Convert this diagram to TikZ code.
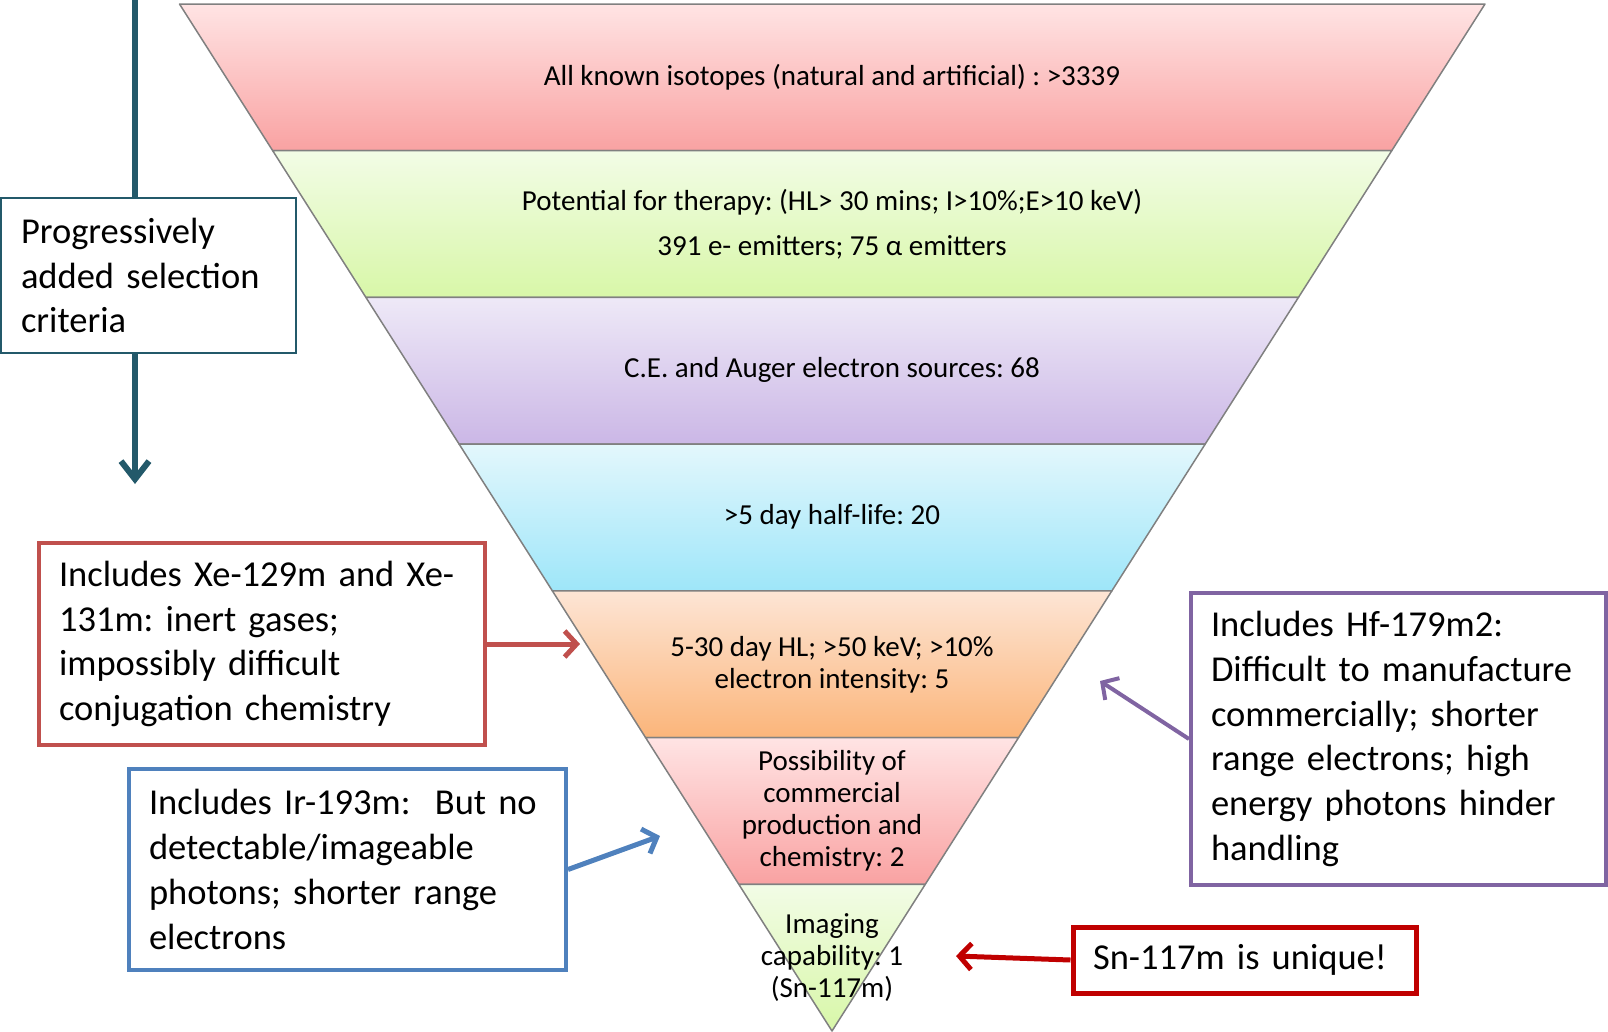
\documentclass[tikz,border=0pt]{standalone}
\usepackage{fontspec}
\setmainfont{Carlito}
\usetikzlibrary{calc,arrows.meta}
\definecolor{pkT}{RGB}{255,228,228}
\definecolor{pkB}{RGB}{249,162,162}
\definecolor{grT}{RGB}{242,252,230}
\definecolor{grB}{RGB}{216,247,168}
\definecolor{puT}{RGB}{238,233,247}
\definecolor{puB}{RGB}{203,183,230}
\definecolor{cyT}{RGB}{227,247,252}
\definecolor{cyB}{RGB}{158,230,249}
\definecolor{orT}{RGB}{253,229,213}
\definecolor{orB}{RGB}{251,181,122}
\definecolor{bandline}{RGB}{128,128,128}
\definecolor{tealc}{RGB}{35,89,106}
\definecolor{xered}{RGB}{192,80,77}
\definecolor{irblue}{RGB}{79,129,189}
\definecolor{hfpurple}{RGB}{128,100,162}
\definecolor{snred}{RGB}{192,0,0}
\newcommand{\boxfont}{\fontsize{36.5}{44.8}\selectfont\frenchspacing}
\newcommand{\bandfont}{\fontsize{29}{32}\selectfont\frenchspacing}
\begin{document}
\frenchspacing
\begin{tikzpicture}[x=1pt,y=-1pt,
  bandtxt/.style={align=center,font=\bandfont,inner sep=0pt},
  callout/.style={draw,fill=white,align=left,font=\boxfont,inner xsep=20pt,inner ysep=0pt},
  conn/.style={line width=5pt}
]
\useasboundingbox (0,0) rectangle (1608,1031);
\coordinate (TL) at (179.5,4);
\coordinate (TR) at (1485,4);
\coordinate (AP) at (832,1031);
\foreach \i/\ct/\cb in {0/pkT/pkB,1/grT/grB,2/puT/puB,3/cyT/cyB,4/orT/orB,5/pkT/pkB,6/grT/grB}{
  \pgfmathsetmacro\fa{\i/7}
  \pgfmathsetmacro\fb{(\i+1)/7}
  \shadedraw[top color=\ct,bottom color=\cb,draw=bandline,line width=1.5pt,line join=round]
    ($(TL)!\fa!(AP)$) -- ($(TR)!\fa!(AP)$) -- ($(TR)!\fb!(AP)$) -- ($(TL)!\fb!(AP)$) -- cycle;
}
% band texts
\node[bandtxt] (b1) at (832,77) {All known isotopes (natural and artificial) : >3339};
\node[bandtxt] (b2) at (832,224) {Potential for therapy: (HL> 30 mins; I>10\%;E>10 keV)\\[13pt]391 e- emitters; 75 α emitters};
\node[bandtxt] (b3) at (832,370) {C.E. and Auger electron sources: 68};
\node[bandtxt] (b4) at (832,517) {>5 day half-life: 20};
\node[bandtxt] (b5) at (832,665) {5-30 day HL; >50 keV; >10\%\\electron intensity: 5};
\node[bandtxt] (b6) at (832,811) {Possibility of\\commercial\\production and\\chemistry: 2};
\node[bandtxt] (b7) at (832,958) {Imaging\\capability: 1\\(Sn-117m)};
% left teal box and arrow
\node[callout,draw=tealc,line width=2pt,text width=255pt,minimum height=155pt] (teal) at (148.5,275.5)
  {Progressively\\added selection\\criteria};
\coordinate (tealtop) at (135,0);
\coordinate (tealend) at (135,484);
\draw[tealc,line width=6pt] (tealtop) -- (tealtop |- teal.north);
\draw[tealc,line width=6pt,-{Straight Barb[length=18pt,width=28pt]}] (tealtop |- teal.south) -- (tealend);
% Xe box
\node[callout,draw=xered,line width=4pt,text width=406pt,minimum height=202pt] (xe) at (262,644)
  {Includes Xe-129m and Xe-\\131m: inert gases;\\impossibly difficult\\conjugation chemistry};
\coordinate (xetip) at (580,644);
\draw[conn,xered,-{Straight Barb[length=12pt,width=26pt]}] (xe.east) -- (xetip);
% Ir box
\node[callout,draw=irblue,line width=4pt,text width=397pt,minimum height=201pt] (ir) at (347.5,869.5)
  {Includes Ir-193m:\ \ But no\\detectable/imageable\\photons; shorter range\\electrons};
\coordinate (irtip) at (660,836);
\draw[conn,irblue,-{Straight Barb[length=12pt,width=26pt]}] (ir.east) -- (irtip);
% Hf box
\node[callout,draw=hfpurple,line width=4pt,text width=375pt,minimum height=292pt] (hf) at (1398.5,739)
  {Includes Hf-179m2:\\Difficult to manufacture\\commercially; shorter\\range electrons; high\\energy photons hinder\\handling};
\coordinate (hftip) at (1100,681);
\draw[line width=4pt,hfpurple,-{Straight Barb[length=12pt,width=26pt]}] (hf.west) -- (hftip);
% Sn box
\node[callout,draw=snred,line width=5pt,text width=303pt,minimum height=66pt] (sn) at (1244.5,960)
  {Sn-117m is unique!};
\coordinate (sntip) at (956,956);
\draw[conn,snred,-{Straight Barb[length=12pt,width=26pt]}] (sn.west) -- (sntip);
\end{tikzpicture}
\end{document}
